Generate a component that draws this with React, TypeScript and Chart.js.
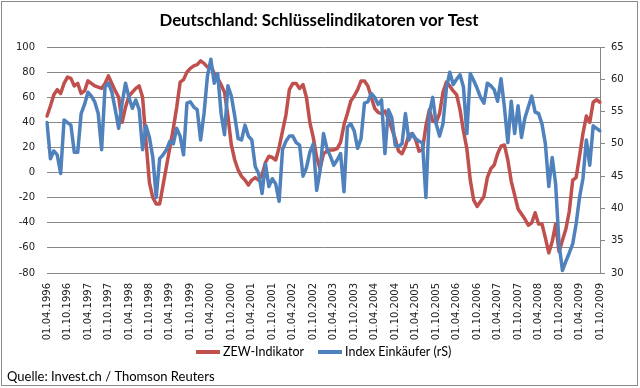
import React, { useEffect, useRef } from "react";
import { Chart, registerables } from "chart.js";

Chart.register(...registerables);

// ---- data ----
const TITLE = "Deutschland: Schlüsselindikatoren vor Test";
const SOURCE = "Quelle: Invest.ch / Thomson Reuters";
const SERIES_NAMES = ["ZEW-Indikator", "Index Einkäufer (rS)"];

// monthly categories from April 1996 to October 2009
const FIRST_YEAR = 1996;
const FIRST_MONTH = 4;
const MONTH_COUNT = 163;
const LABEL_EVERY = 6;

// ZEW-Indikator (left axis)
const zew = [
  45, 53, 62, 66, 63, 71, 76, 75, 69, 71, 63, 65,
  73, 71, 69, 68, 67, 71, 77, 71, 65, 60, 40, 52,
  61, 64, 67, 69, 60, 25, -8, -20, -25, -25, -10, 5,
  20, 35, 52, 72, 74, 80, 83, 85, 86, 89, 87, 84,
  85, 79, 75, 70, 64, 45, 22, 10, 2, -3, -6, -10,
  -6, -4, -6, -2, 8, 13, 12, 10, 20, 33, 46, 66,
  71, 71, 67, 70, 60, 40, 28, 12, 3, 15, 17, 18,
  18, 19, 24, 38, 47, 57, 61, 66, 73, 73, 69, 60,
  51, 48, 47, 49, 43, 35, 27, 17, 15, 21, 30, 31,
  26, 17, 18, 37, 50, 41, 40, 47, 64, 72, 69, 65,
  62, 50, 33, 19, -6, -22, -27, -23, -19, -4, 3, 6,
  15, 21, 22, 10, -7, -18, -29, -33, -37, -42, -40, -32,
  -41, -41, -52, -64, -55, -41, -63, -54, -45, -31, -6, -4,
  13, 31, 45, 40, 56, 58, 56,
];

// Index Einkäufer (right axis)
const einkaeufer = [
  53.3, 47.7, 48.9, 48.3, 45.4, 53.7, 53.3, 52.9, 48.7, 48.7, 54.7, 56.1,
  58.0, 57.4, 56.5, 54.7, 49.1, 58.8, 59.4, 58.0, 55.3, 52.4, 56.3, 59.4,
  57.2, 55.5, 56.8, 55.3, 49.1, 52.8, 51.0, 47.9, 41.7, 47.7, 48.3, 49.1,
  50.4, 50.0, 52.4, 51.2, 48.3, 56.3, 56.5, 55.7, 55.3, 50.6, 54.7, 60.5,
  63.1, 59.4, 60.9, 54.7, 51.4, 59.0, 57.4, 54.3, 50.8, 50.6, 52.9, 51.2,
  50.6, 46.5, 45.4, 42.3, 46.9, 43.4, 44.6, 43.8, 41.1, 49.1, 50.4, 51.2,
  51.2, 50.2, 49.8, 45.0, 46.3, 48.7, 50.0, 42.8, 45.9, 51.6, 49.3, 48.1,
  46.7, 47.5, 48.5, 42.6, 52.6, 53.1, 52.0, 49.3, 50.8, 56.3, 56.5, 57.8,
  57.2, 56.1, 56.8, 48.5, 55.3, 54.1, 49.8, 49.6, 50.0, 54.7, 50.6, 51.6,
  50.8, 50.4, 50.2, 41.7, 54.7, 57.2, 53.1, 51.2, 53.1, 58.6, 61.1, 59.2,
  60.0, 60.7, 58.8, 51.6, 60.9, 59.8, 58.6, 57.2, 56.3, 59.4, 59.0, 58.4,
  56.6, 60.1, 55.7, 50.2, 56.6, 51.6, 55.9, 51.0, 54.0, 55.7, 57.4, 54.9,
  54.7, 53.1, 50.0, 43.4, 47.9, 43.8, 34.5, 30.4, 31.8, 33.1, 34.5, 37.6,
  41.7, 44.6, 50.6, 46.7, 52.8, 52.4, 52.0,
];

const LEFT_MIN = -80;
const LEFT_MAX = 100;
const LEFT_STEP = 20;
const RIGHT_MIN = 30;
const RIGHT_MAX = 65;
const RIGHT_STEP = 5;

const RED = "#C0504D";
const BLUE = "#4F81BD";
const GRID = "#878787";

function buildCategories(): string[] {
  const out: string[] = [];
  for (let i = 0; i < MONTH_COUNT; i++) {
    const m0 = FIRST_MONTH - 1 + i;
    const y = FIRST_YEAR + Math.floor(m0 / 12);
    const m = (m0 % 12) + 1;
    out.push("01." + String(m).padStart(2, "0") + "." + y);
  }
  return out;
}

const categories = buildCategories();

const decor = {
  id: "decor",
  beforeDraw(chart: any) {
    const ctx = chart.ctx;
    ctx.save();
    ctx.fillStyle = "#ffffff";
    ctx.fillRect(0, 0, chart.width, chart.height);
    ctx.restore();
  },
  afterDraw(chart: any) {
    const ctx = chart.ctx;
    ctx.save();
    // outer border
    ctx.strokeStyle = "#8a8a8a";
    ctx.lineWidth = 1;
    ctx.strokeRect(1.5, 1.5, 636, 384);
    // title
    ctx.fillStyle = "#000000";
    ctx.font = "bold 16.8px Lato";
    ctx.textAlign = "center";
    ctx.textBaseline = "middle";
    ctx.fillText(TITLE, 319, 21);
    // legend
    ctx.textAlign = "left";
    const ly = 352;
    const items = [
      { x: 196, color: RED, text: SERIES_NAMES[0] },
      { x: 318, color: BLUE, text: SERIES_NAMES[1] },
    ];
    for (const it of items) {
      ctx.strokeStyle = it.color;
      ctx.lineWidth = 4;
      ctx.lineCap = "butt";
      ctx.beginPath();
      ctx.moveTo(it.x, ly);
      ctx.lineTo(it.x + 24, ly);
      ctx.stroke();
      ctx.fillStyle = "#000000";
      ctx.font = "12.5px Lato";
      ctx.fillText(it.text, it.x + 27, ly);
    }
    // source
    ctx.font = "13px Lato";
    ctx.fillText(SOURCE, 7, 377);
    ctx.restore();
  },
};

export default function App() {
  const ref = useRef<HTMLCanvasElement | null>(null);

  useEffect(() => {
    if (!ref.current) return;
    const chart = new Chart(ref.current, {
      type: "line",
      data: {
        labels: categories,
        datasets: [
          {
            label: SERIES_NAMES[0],
            data: zew,
            yAxisID: "y",
            borderColor: RED,
            backgroundColor: RED,
            borderWidth: 3.5,
            pointRadius: 0,
            tension: 0,
            borderJoinStyle: "round",
            borderCapStyle: "round",
            order: 1,
          },
          {
            label: SERIES_NAMES[1],
            data: einkaeufer,
            yAxisID: "y1",
            borderColor: BLUE,
            backgroundColor: BLUE,
            borderWidth: 3.5,
            pointRadius: 0,
            tension: 0,
            borderJoinStyle: "round",
            borderCapStyle: "round",
            order: 0,
          },
        ],
      },
      options: {
        animation: false,
        responsive: false,
        devicePixelRatio: 1,
        layout: { padding: { top: 47, bottom: 0, left: 0, right: 0 } },
        plugins: {
          legend: { display: false },
          title: { display: false },
          tooltip: { enabled: false },
        },
        scales: {
          x: {
            type: "category",
            offset: false,
            grid: { display: false, drawTicks: false },
            border: { display: true, color: GRID, width: 1 },
            ticks: {
              autoSkip: false,
              minRotation: 90,
              maxRotation: 90,
              padding: 10,
              color: "#222222",
              font: { family: "DejaVu Sans", size: 10 },
              callback: (_v: any, idx: number) =>
                idx % LABEL_EVERY === 0 ? categories[idx] : null,
            },
            afterFit: (s: any) => {
              s.height = 115;
            },
          },
          y: {
            position: "left",
            min: LEFT_MIN,
            max: LEFT_MAX,
            grid: { color: GRID, lineWidth: 1, drawTicks: false },
            border: { display: false },
            ticks: {
              stepSize: LEFT_STEP,
              padding: 12,
              color: "#222222",
              font: { family: "DejaVu Sans", size: 10 },
            },
            afterFit: (s: any) => {
              s.width = 47;
            },
          },
          y1: {
            position: "right",
            min: RIGHT_MIN,
            max: RIGHT_MAX,
            grid: {
              drawOnChartArea: false,
              drawTicks: true,
              tickLength: 5,
              color: GRID,
            },
            border: { display: true, color: GRID, width: 1 },
            ticks: {
              stepSize: RIGHT_STEP,
              padding: 6,
              color: "#222222",
              font: { family: "DejaVu Sans", size: 10 },
            },
            afterFit: (s: any) => {
              s.width = 40;
            },
          },
        },
      },
      plugins: [decor],
    });
    return () => chart.destroy();
  }, []);

  return (
    <div style={{ position: "absolute", left: 0, top: 0, width: 640, height: 388 }}>
      <canvas ref={ref} width={640} height={388} />
    </div>
  );
}
